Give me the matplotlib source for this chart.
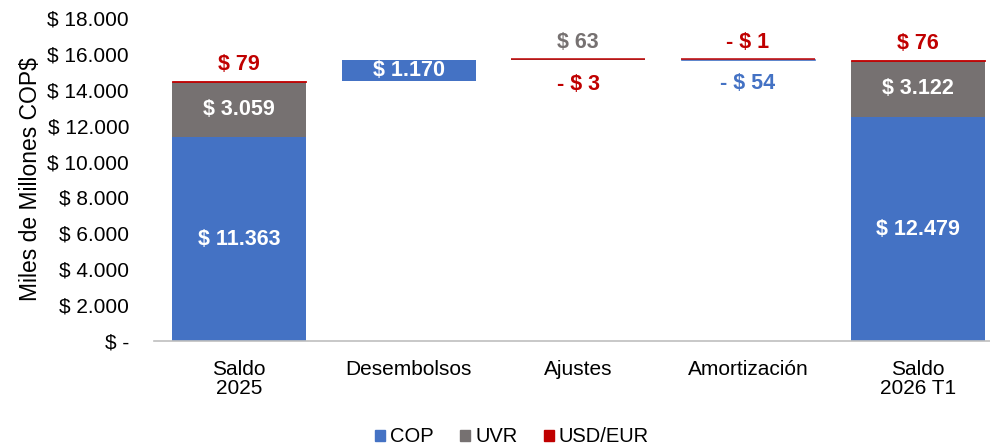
import matplotlib
matplotlib.use("Agg")
import matplotlib.pyplot as plt
from matplotlib.ticker import FuncFormatter
from matplotlib.patches import Patch

plt.rcParams['font.family'] = ['Liberation Sans', 'DejaVu Sans']

categories = ["Saldo\n2025", "Desembolsos", "Ajustes", "Amortización", "Saldo\n2026 T1"]
series = ["COP", "UVR", "USD/EUR"]
cop = [11363, 1170, 0, -54, 12479]
uvr = [3059, 0, 63, 0, 3122]
usd = [79, 0, -3, -1, 76]
kinds = ["total", "delta", "delta", "delta", "total"]

colors = {"COP": "#4472C4", "UVR": "#767171", "USD/EUR": "#C00000"}
label_colors = {"COP": "#4472C4", "UVR": "#767171", "USD/EUR": "#C00000"}

def fmt(v):
    s = f"{abs(v):,}".replace(",", ".")
    return ("- $ " if v < 0 else "$ ") + s

LBL = 15.5
fig = plt.figure(figsize=(9.9, 4.47), dpi=100)
ax = fig.add_axes([0.1556, 0.237, 0.857, 0.723])

def above(x, y, s, c):
    ax.annotate(s, (x, y), xytext=(0, 11.5), textcoords="offset points",
                ha="center", va="center", color=c, fontsize=LBL, fontweight="bold")

def below(x, y, s, c):
    ax.annotate(s, (x, y), xytext=(0, -17.5), textcoords="offset points",
                ha="center", va="center", color=c, fontsize=LBL, fontweight="bold")

width = 0.79
running = 0
for i, kind in enumerate(kinds):
    vals = {"COP": cop[i], "UVR": uvr[i], "USD/EUR": usd[i]}
    if kind == "total":
        bottom = 0
        for s in series:
            v = vals[s]
            ax.bar(i, v, width, bottom=bottom, color=colors[s],
                   edgecolor=colors[s], linewidth=0.6 if s == "USD/EUR" else 0)
            if s == "USD/EUR":
                above(i, bottom + v, fmt(v), label_colors[s])
            else:
                ax.text(i, bottom + v / 2, fmt(v), ha="center", va="center",
                        color="white", fontsize=LBL, fontweight="bold")
            bottom += v
        running = bottom
    else:
        start = running
        nz = [s for s in series if vals[s] != 0]
        pos = [s for s in nz if vals[s] > 0]
        neg = [s for s in reversed(series) if vals[s] < 0]
        level = start
        for s in pos:
            v = vals[s]
            ax.bar(i, v, width, bottom=level, color=colors[s],
                   edgecolor=colors[s], linewidth=0, zorder=2)
            level += v
        for s in neg:
            v = vals[s]
            lw = 1.1 if s == "USD/EUR" else 0.5
            ax.bar(i, v, width, bottom=level, color=colors[s],
                   edgecolor=colors[s], linewidth=lw,
                   zorder=3 if s == "USD/EUR" else 2)
            level += v
        if len(nz) == 1:
            s = nz[0]
            v = vals[s]
            ax.text(i, start + v / 2, fmt(v), ha="center", va="center",
                    color="white", fontsize=LBL, fontweight="bold")
        else:
            main = [s for s in nz if s != "USD/EUR"][0]
            vm = vals[main]
            top_s, bot_s = (main, "USD/EUR") if vm > 0 else ("USD/EUR", main)
            above(i, max(start, level), fmt(vals[top_s]), label_colors[top_s])
            below(i, min(start, level), fmt(vals[bot_s]), label_colors[bot_s])
        running = level

ax.set_xlim(-0.5, 4.5)
ax.set_ylim(0, 18000)
ax.set_yticks(range(0, 18001, 2000))
ax.yaxis.set_major_formatter(FuncFormatter(
    lambda v, p: "$ -" if v == 0 else "$ " + f"{int(v):,}".replace(",", ".")))
ax.set_xticks(range(len(categories)))
ax.set_xticklabels(categories, fontsize=15, linespacing=1.0)
ax.tick_params(axis="y", labelsize=15, length=0, pad=18)
ax.tick_params(axis="x", length=0, pad=13.5)
for sp in ["top", "right", "left"]:
    ax.spines[sp].set_visible(False)
ax.spines["bottom"].set_color("#BFBFBF")
ax.spines["bottom"].set_linewidth(1.2)
ax.set_ylabel("Miles de Millones COP$", fontsize=16.5, labelpad=4)

handles = [Patch(color=colors[s], label=s) for s in series]
fig.legend(handles=handles, loc="center", bbox_to_anchor=(512 / 990, 1 - 437 / 447),
           ncol=3, frameon=False, fontsize=14.5, handlelength=0.5, handleheight=0.5,
           handletextpad=0.25, columnspacing=1.3)

fig.savefig("out.png", dpi=100)
